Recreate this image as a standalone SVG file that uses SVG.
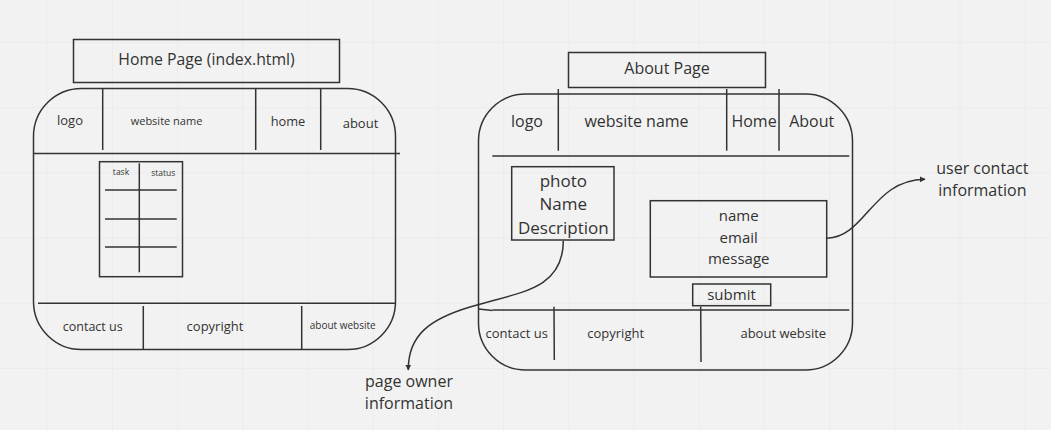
<svg xmlns="http://www.w3.org/2000/svg" width="1051" height="430" viewBox="0 0 1051 430">
  <defs>
    <pattern id="grid" patternUnits="userSpaceOnUse" x="46.7" y="42" width="65.2" height="65.2">
      <path d="M0 0 H65.2 M0 0 V65.2" fill="none" stroke="#e6e6e6" stroke-width="1"/>
    </pattern>
    <marker id="arrow" viewBox="0 0 10 10" refX="9" refY="5" markerWidth="6" markerHeight="6" orient="auto" markerUnits="userSpaceOnUse">
      <path d="M0 0 L10 5 L0 10 z" fill="#333"/>
    </marker>
    <style>
      .ln { fill: none; stroke: #333; stroke-width: 1.5; }
      .box { fill: none; stroke: #333; stroke-width: 1.5; }
      .t { font-family: "Open Sans", "Noto Sans", "Liberation Sans", sans-serif; fill: #333; text-anchor: middle; dominant-baseline: central; }
      .conn { fill: none; stroke: #333; stroke-width: 1.5; marker-end: url(#arrow); }
    </style>
  </defs>

  <rect width="1051" height="430" fill="#f2f2f2"/>
  <rect width="1051" height="430" fill="url(#grid)"/>

  <!-- Home page wireframe -->
  <g id="home-title">
    <rect class="box" x="73.5" y="39.5" width="266" height="43"/>
    <text class="t" x="206.5" y="59" font-size="15.8">Home Page (index.html)</text>
  </g>
  <g id="home-page">
    <rect class="box" x="33.5" y="88.5" width="362" height="261" rx="48" ry="48"/>
    <!-- header -->
    <line class="ln" x1="33.5" y1="153.5" x2="400" y2="153.5"/>
    <line class="ln" x1="102.7" y1="88.5" x2="102.7" y2="150"/>
    <line class="ln" x1="255.7" y1="88.5" x2="255.7" y2="150"/>
    <line class="ln" x1="320.7" y1="88.5" x2="320.7" y2="150"/>
    <text class="t" x="70" y="120" font-size="13">logo</text>
    <text class="t" x="166.5" y="120.5" font-size="11">website name</text>
    <text class="t" x="288" y="121" font-size="12.8">home</text>
    <text class="t" x="360.5" y="123" font-size="13">about</text>
    <!-- footer -->
    <line class="ln" x1="38" y1="303.3" x2="395" y2="303.3"/>
    <line class="ln" x1="143.3" y1="306" x2="143.3" y2="349.5"/>
    <line class="ln" x1="301.7" y1="306" x2="301.7" y2="349.5"/>
    <text class="t" x="92.7" y="326" font-size="12.5">contact us</text>
    <text class="t" x="215" y="326" font-size="13">copyright</text>
    <text class="t" x="342.7" y="325" font-size="10">about website</text>
  </g>
  <g id="home-task-table">
    <rect class="box" x="99.5" y="161.7" width="83" height="115"/>
    <line class="ln" x1="139.3" y1="163.3" x2="139.3" y2="272.3"/>
    <line class="ln" x1="105" y1="190" x2="176.7" y2="190"/>
    <line class="ln" x1="105" y1="219" x2="176.7" y2="219"/>
    <line class="ln" x1="105" y1="247" x2="176.7" y2="247"/>
    <text class="t" x="121" y="171.5" font-size="8.5">task</text>
    <text class="t" x="163.3" y="172.5" font-size="8.5">status</text>
  </g>

  <!-- About page wireframe -->
  <g id="about-title">
    <rect class="box" x="568.5" y="52.5" width="197" height="35"/>
    <text class="t" x="667" y="68" font-size="16">About Page</text>
  </g>
  <g id="about-page">
    <rect class="box" x="478.5" y="94" width="374" height="276" rx="47" ry="47"/>
    <!-- header -->
    <line class="ln" x1="492.3" y1="156" x2="849.3" y2="156"/>
    <line class="ln" x1="558.3" y1="89" x2="558.3" y2="150.7"/>
    <line class="ln" x1="726.7" y1="89" x2="726.7" y2="150.7"/>
    <line class="ln" x1="779" y1="89" x2="779" y2="150.7"/>
    <text class="t" x="527" y="120.5" font-size="16">logo</text>
    <text class="t" x="636.5" y="120.5" font-size="16">website name</text>
    <text class="t" x="754" y="120.5" font-size="16">Home</text>
    <text class="t" x="811.7" y="120.5" font-size="16">About</text>
    <!-- footer -->
    <line class="ln" x1="478.5" y1="309" x2="492.5" y2="310.5"/>
    <line class="ln" x1="492.5" y1="310" x2="849.3" y2="310"/>
    <line class="ln" x1="554" y1="306.7" x2="554.3" y2="360"/>
    <line class="ln" x1="700.7" y1="306.7" x2="701" y2="362"/>
    <text class="t" x="516.7" y="332.8" font-size="13">contact us</text>
    <text class="t" x="615.7" y="332.8" font-size="13">copyright</text>
    <text class="t" x="783.3" y="332.8" font-size="13">about website</text>
  </g>
  <g id="about-owner-card">
    <rect class="box" x="511.7" y="166.7" width="102.3" height="73.3"/>
    <text class="t" x="563.3" y="180.3" font-size="17">photo</text>
    <text class="t" x="563.3" y="203.8" font-size="17">Name</text>
    <text class="t" x="563.3" y="227.8" font-size="17">Description</text>
  </g>
  <g id="about-contact-form">
    <rect class="box" x="650.3" y="200.7" width="176.4" height="76.3"/>
    <text class="t" x="738.7" y="215" font-size="15">name</text>
    <text class="t" x="738.7" y="236.6" font-size="15">email</text>
    <text class="t" x="738.7" y="258" font-size="15">message</text>
  </g>
  <g id="about-submit">
    <rect class="box" x="692.7" y="284" width="78" height="21.7"/>
    <text class="t" x="731.5" y="293.5" font-size="15">submit</text>
  </g>

  <!-- annotation labels -->
  <g id="label-owner">
    <text class="t" x="409" y="381" font-size="16">page owner</text>
    <text class="t" x="409" y="403.3" font-size="16">information</text>
  </g>
  <g id="label-contact">
    <text class="t" x="982.3" y="167.6" font-size="16">user contact</text>
    <text class="t" x="982.3" y="190.3" font-size="16">information</text>
  </g>

  <!-- connectors -->
  <g id="connectors">
    <path class="conn" d="M563.3 241 C563 290 520 292 470 307 C430 319 408 335 408.3 370"/>
    <path class="conn" d="M827 238.3 C866 237 872 180 925 179.3"/>
  </g>
</svg>
